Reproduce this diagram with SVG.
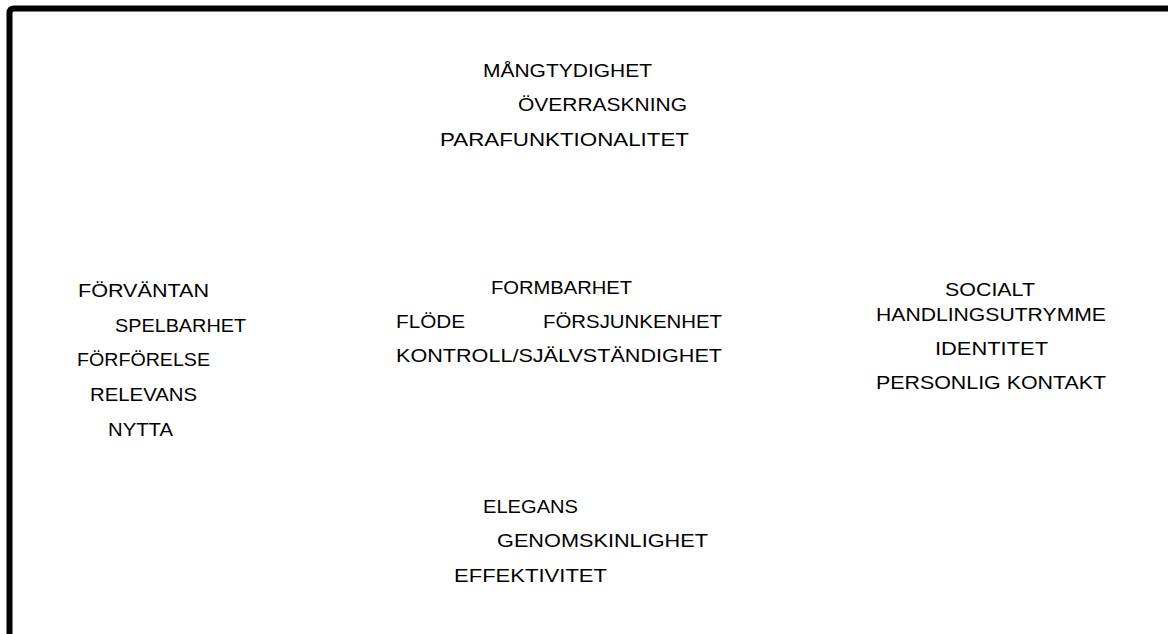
<svg xmlns="http://www.w3.org/2000/svg" width="1168" height="634" viewBox="0 0 1168 634">
  <style>
    .frame { fill: none; stroke: #000; stroke-width: 6; }
    .t { font-family: "Liberation Sans", "DejaVu Sans", sans-serif; font-size: 18px; fill: #000; }
  </style>
  <rect width="1168" height="634" fill="#fff"/>
  <path class="frame" d="M9.5,634 V13 Q9.5,8.5 14,8.5 H1168"/>
  <g id="connectors"/>
  <g id="top-group">
    <g id="n-mangtydighet"><text class="t" x="483" y="77" textLength="169" lengthAdjust="spacingAndGlyphs">MÅNGTYDIGHET</text></g>
    <g id="n-overraskning"><text class="t" x="518" y="111" textLength="169" lengthAdjust="spacingAndGlyphs">ÖVERRASKNING</text></g>
    <g id="n-parafunktionalitet"><text class="t" x="440" y="146" textLength="249" lengthAdjust="spacingAndGlyphs">PARAFUNKTIONALITET</text></g>
  </g>
  <g id="left-group">
    <g id="n-forvantan"><text class="t" x="78" y="297" textLength="131" lengthAdjust="spacingAndGlyphs">FÖRVÄNTAN</text></g>
    <g id="n-spelbarhet"><text class="t" x="115" y="332" textLength="131" lengthAdjust="spacingAndGlyphs">SPELBARHET</text></g>
    <g id="n-forforelse"><text class="t" x="77" y="366" textLength="133" lengthAdjust="spacingAndGlyphs">FÖRFÖRELSE</text></g>
    <g id="n-relevans"><text class="t" x="90" y="401" textLength="107" lengthAdjust="spacingAndGlyphs">RELEVANS</text></g>
    <g id="n-nytta"><text class="t" x="108" y="436" textLength="65" lengthAdjust="spacingAndGlyphs">NYTTA</text></g>
  </g>
  <g id="center-group">
    <g id="n-formbarhet"><text class="t" x="491" y="294" textLength="141" lengthAdjust="spacingAndGlyphs">FORMBARHET</text></g>
    <g id="n-flode"><text class="t" x="396" y="328" textLength="69" lengthAdjust="spacingAndGlyphs">FLÖDE</text></g>
    <g id="n-forsjunkenhet"><text class="t" x="543" y="328" textLength="179" lengthAdjust="spacingAndGlyphs">FÖRSJUNKENHET</text></g>
    <g id="n-kontroll"><text class="t" x="396" y="362" textLength="326" lengthAdjust="spacingAndGlyphs">KONTROLL/SJÄLVSTÄNDIGHET</text></g>
  </g>
  <g id="right-group">
    <g id="n-socialt"><text class="t" x="945" y="296" textLength="90" lengthAdjust="spacingAndGlyphs">SOCIALT</text>
      <text class="t" x="876" y="321" textLength="230" lengthAdjust="spacingAndGlyphs">HANDLINGSUTRYMME</text></g>
    <g id="n-identitet"><text class="t" x="935" y="355" textLength="113" lengthAdjust="spacingAndGlyphs">IDENTITET</text></g>
    <g id="n-personlig-kontakt"><text class="t" x="876" y="389" textLength="230" lengthAdjust="spacingAndGlyphs">PERSONLIG KONTAKT</text></g>
  </g>
  <g id="bottom-group">
    <g id="n-elegans"><text class="t" x="483" y="513" textLength="95" lengthAdjust="spacingAndGlyphs">ELEGANS</text></g>
    <g id="n-genomskinlighet"><text class="t" x="497" y="547" textLength="211" lengthAdjust="spacingAndGlyphs">GENOMSKINLIGHET</text></g>
    <g id="n-effektivitet"><text class="t" x="454" y="582" textLength="153" lengthAdjust="spacingAndGlyphs">EFFEKTIVITET</text></g>
  </g>
</svg>
